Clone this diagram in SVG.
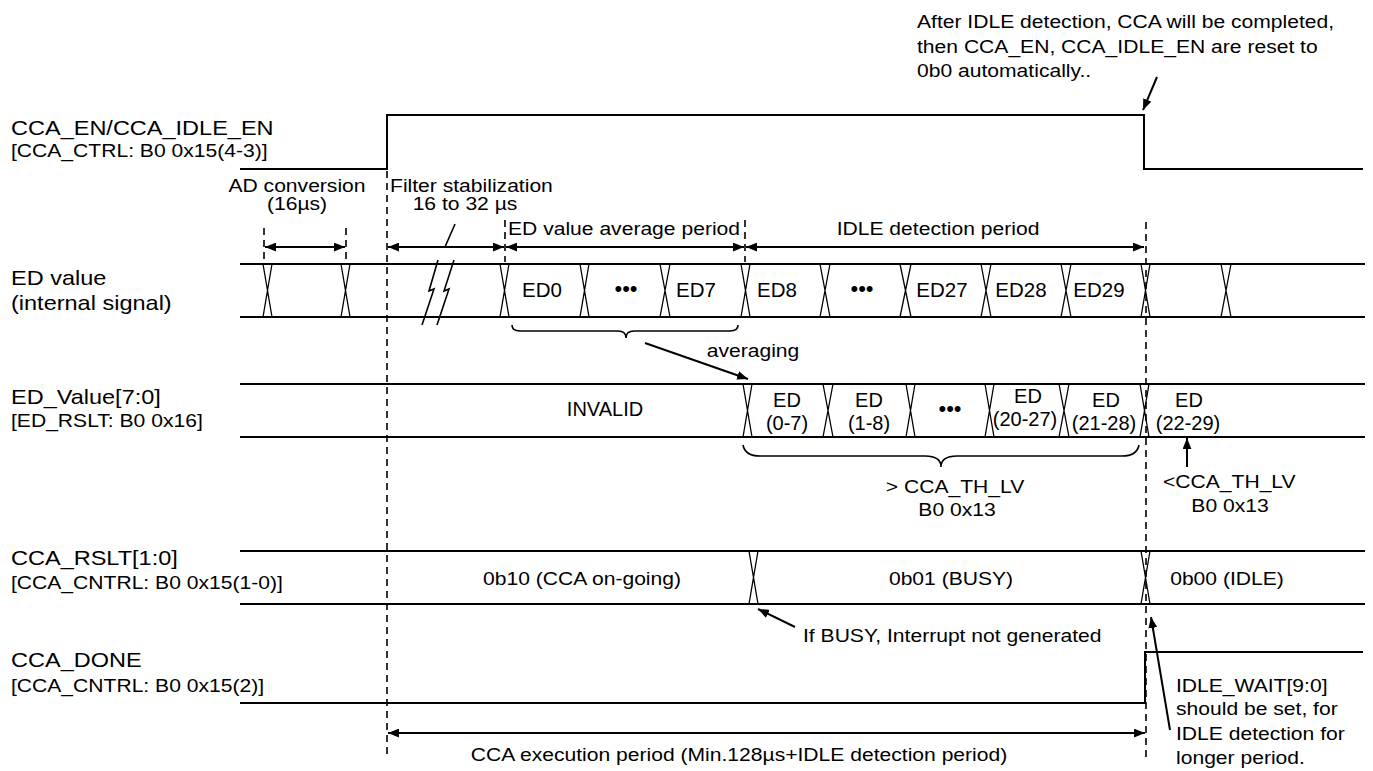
<svg xmlns="http://www.w3.org/2000/svg" width="1373" height="771" viewBox="0 0 1373 771">
<style>
text{font-family:"Liberation Sans",Arial,sans-serif;fill:#000}
.sg{font-size:21px}
.rg{font-size:18.5px}
.nt{font-size:18.5px}
.v{font-size:20.5px;text-anchor:middle}
.m{text-anchor:middle}
.dots{font-size:22px;text-anchor:middle}
.sig{fill:none;stroke:#000;stroke-width:2}
.x{fill:none;stroke:#000;stroke-width:1.3}
.dash{fill:none;stroke:#000;stroke-width:1.6;stroke-dasharray:7 5}
.arr{fill:none;stroke:#000;stroke-width:2}
.thin{fill:none;stroke:#000;stroke-width:1.6}
</style>
<defs>
<marker id="ah" viewBox="0 0 10 8" refX="10" refY="4" markerWidth="11" markerHeight="9" markerUnits="userSpaceOnUse" orient="auto-start-reverse"><path d="M0,0 L10,4 L0,8 z" fill="#000"/></marker>
</defs>
<rect width="1373" height="771" fill="#fff"/>

<g id="note-top">
<text class="nt" transform="translate(917,28) scale(1.14,1)">After IDLE detection, CCA will be completed,</text>
<text class="nt" transform="translate(917,53) scale(1.14,1)">then CCA_EN, CCA_IDLE_EN are reset to</text>
<text class="nt" transform="translate(917,77) scale(1.14,1)">0b0 automatically..</text>
</g>

<g id="sig-cca-en">
<text class="sg" transform="translate(11,135) scale(1.12,1)">CCA_EN/CCA_IDLE_EN</text>
<text class="rg" transform="translate(11,157) scale(1.14,1)">[CCA_CTRL: B0 0x15(4-3)]</text>
<polyline class="sig" points="240,169 387,169 387,115 1144,115 1144,169 1363,169"/>
</g>

<g id="sig-ed-value">
<text class="sg" transform="translate(11,285) scale(1.12,1)">ED value</text>
<text class="sg" transform="translate(11,310) scale(1.12,1)">(internal signal)</text>
<path class="sig" d="M240,264 H1365 M240,317 H1365"/>
<path class="x" d="M263,264 L272,317 M272,264 L263,317 M341,264 L350,317 M350,264 L341,317 M500,264 L509,317 M509,264 L500,317 M580,264 L589,317 M589,264 L580,317 M660,264 L670,317 M670,264 L660,317 M741,264 L750,317 M750,264 L741,317 M820,264 L830,317 M830,264 L820,317 M900,264 L911,317 M911,264 L900,317 M981,264 L991,317 M991,264 L981,317 M1061,264 L1071,317 M1071,264 L1061,317 M1141,264 L1150,317 M1150,264 L1141,317 M1221,264 L1231,317 M1231,264 L1221,317"/>
<path class="thin" d="M422,325 L434,289 L429,291 L438,260 M437,325 L449,289 L444,291 L454,260"/>
<text class="v" x="542" y="297">ED0</text>
<text class="dots" x="626" y="296">•••</text>
<text class="v" x="696" y="297">ED7</text>
<text class="v" x="777" y="297">ED8</text>
<text class="dots" x="862" y="296">•••</text>
<text class="v" x="942" y="297">ED27</text>
<text class="v" x="1021" y="297">ED28</text>
<text class="v" x="1099" y="297">ED29</text>
</g>

<g id="sig-ed-rslt">
<text class="sg" transform="translate(11,404) scale(1.12,1)">ED_Value[7:0]</text>
<text class="rg" transform="translate(11,427) scale(1.14,1)">[ED_RSLT: B0 0x16]</text>
<path class="sig" d="M240,384 H1365 M240,437 H1365"/>
<path class="x" d="M743,384 L752,437 M752,384 L743,437 M823,384 L833,437 M833,384 L823,437 M906,384 L915,437 M915,384 L906,437 M985,384 L994,437 M994,384 L985,437 M1059,384 L1069,437 M1069,384 L1059,437 M1140,384 L1149,437 M1149,384 L1140,437"/>
<text class="v" style="font-size:20px" x="605" y="416">INVALID</text>
<text class="v" style="font-size:20px" x="787" y="407">ED</text>
<text class="v" style="font-size:20px" x="787" y="430">(0-7)</text>
<text class="v" style="font-size:20px" x="869" y="407">ED</text>
<text class="v" style="font-size:20px" x="869" y="430">(1-8)</text>
<text class="dots" x="950" y="416">•••</text>
<text class="v" style="font-size:20px" x="1028" y="403">ED</text>
<text class="v" style="font-size:20px" x="1025" y="426">(20-27)</text>
<text class="v" style="font-size:20px" x="1106" y="407">ED</text>
<text class="v" style="font-size:20px" x="1104" y="430">(21-28)</text>
<text class="v" style="font-size:20px" x="1189" y="407">ED</text>
<text class="v" style="font-size:20px" x="1188" y="430">(22-29)</text>
</g>

<g id="sig-cca-rslt">
<text class="sg" transform="translate(11,565) scale(1.12,1)">CCA_RSLT[1:0]</text>
<text class="rg" transform="translate(11,589) scale(1.14,1)">[CCA_CNTRL: B0 0x15(1-0)]</text>
<path class="sig" d="M240,551 H1365 M240,604 H1365"/>
<path class="x" d="M749,551 L758,604 M758,551 L749,604 M1141,551 L1150,604 M1150,551 L1141,604"/>
<text class="nt m" transform="translate(582,585) scale(1.14,1)">0b10 (CCA on-going)</text>
<text class="nt m" transform="translate(951,585) scale(1.14,1)">0b01 (BUSY)</text>
<text class="nt m" transform="translate(1227,585) scale(1.14,1)">0b00 (IDLE)</text>
</g>

<g id="sig-cca-done">
<text class="sg" transform="translate(11,667) scale(1.12,1)">CCA_DONE</text>
<text class="rg" transform="translate(11,692) scale(1.14,1)">[CCA_CNTRL: B0 0x15(2)]</text>
<polyline class="sig" points="240,703 1145,703 1145,652 1363,652"/>
</g>

<g id="labels">
<text class="nt m" transform="translate(297,192) scale(1.14,1)">AD conversion</text>
<text class="nt m" transform="translate(297,210) scale(1.14,1)">(16µs)</text>
<text class="nt" transform="translate(390,192) scale(1.14,1)">Filter stabilization</text>
<text class="nt m" transform="translate(465,210) scale(1.14,1)">16 to 32 µs</text>
<text class="nt" transform="translate(508,235) scale(1.14,1)">ED value average period</text>
<text class="nt m" transform="translate(938,235) scale(1.14,1)">IDLE detection period</text>
<text class="nt m" transform="translate(753,357) scale(1.14,1)">averaging</text>
<text class="nt m" transform="translate(955,493) scale(1.14,1)">&gt; CCA_TH_LV</text>
<text class="nt m" transform="translate(957,516) scale(1.14,1)">B0 0x13</text>
<text class="nt" transform="translate(1163,488) scale(1.14,1)">&lt;CCA_TH_LV</text>
<text class="nt m" transform="translate(1230,512) scale(1.14,1)">B0 0x13</text>
<text class="nt" transform="translate(803,642) scale(1.14,1)">If BUSY, Interrupt not generated</text>
<text class="nt" transform="translate(1176,692) scale(1.14,1)">IDLE_WAIT[9:0]</text>
<text class="nt" transform="translate(1176,715) scale(1.14,1)">should be set, for</text>
<text class="nt" transform="translate(1176,740) scale(1.14,1)">IDLE detection for</text>
<text class="nt" transform="translate(1176,764) scale(1.14,1)">longer period.</text>
<text class="nt m" transform="translate(739,761) scale(1.14,1)">CCA execution period (Min.128µs+IDLE detection period)</text>
</g>

<g id="connectors">
<path class="dash" d="M264,228 V264 M346,228 V264 M387,171 V757 M505,220 V262 M745,220 V262 M1146,222 V757"/>
<line class="arr" x1="265" y1="247" x2="345" y2="247" marker-start="url(#ah)" marker-end="url(#ah)"/>
<line class="arr" x1="388" y1="247" x2="504" y2="247" marker-start="url(#ah)" marker-end="url(#ah)"/>
<line class="arr" x1="506" y1="247" x2="744" y2="247" marker-start="url(#ah)" marker-end="url(#ah)"/>
<line class="arr" x1="746" y1="247" x2="1144" y2="247" marker-start="url(#ah)" marker-end="url(#ah)"/>
<line class="arr" x1="388" y1="733" x2="1145" y2="733" marker-start="url(#ah)" marker-end="url(#ah)"/>
<line class="thin" x1="455" y1="224" x2="445" y2="247"/>
<line class="arr" x1="1157" y1="77" x2="1143" y2="110" marker-end="url(#ah)"/>
<line class="arr" x1="645" y1="343" x2="748" y2="379" marker-end="url(#ah)"/>
<line class="arr" x1="1187" y1="467" x2="1187" y2="438" marker-end="url(#ah)"/>
<line class="arr" x1="795" y1="627" x2="758" y2="609" marker-end="url(#ah)"/>
<line class="arr" x1="1170" y1="730" x2="1151" y2="617" marker-end="url(#ah)"/>
<path class="thin" d="M512,325 Q512,331 520,331 L618,331 Q626,331 626,338 Q626,331 634,331 L730,331 Q738,331 738,325"/>
<path class="thin" d="M743,445 Q745,456 760,456 L925,456 Q941,456 941,467 Q941,456 957,456 L1122,456 Q1137,456 1139,445"/>
</g>
</svg>
